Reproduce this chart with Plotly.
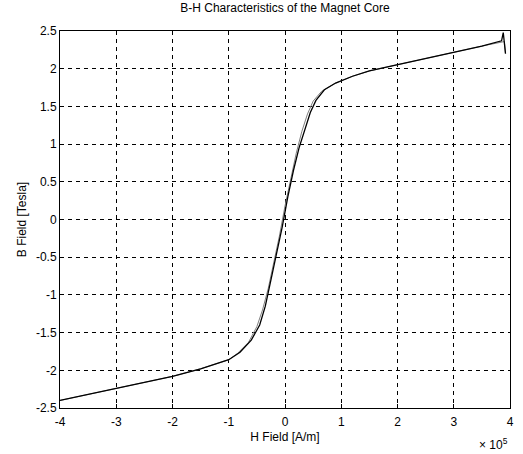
import plotly.graph_objects as go

# H field in units of 1e5 A/m, B field in Tesla
H_up = [-4.0, -3.5, -3.0, -2.5, -2.0, -1.5, -1.0, -0.8, -0.6, -0.45, -0.35, -0.25, -0.15,
        -0.05, 0.05, 0.15, 0.25, 0.35, 0.45, 0.55, 0.7, 0.9, 1.2, 1.5, 2.0, 2.5, 3.0, 3.5,
        3.85, 3.88, 3.92]
B_up = [-2.40, -2.32, -2.24, -2.16, -2.08, -1.98, -1.86, -1.76, -1.60, -1.40, -1.15, -0.80, -0.45,
        -0.10, 0.30, 0.65, 0.95, 1.20, 1.42, 1.58, 1.72, 1.81, 1.90, 1.97, 2.05, 2.13, 2.22, 2.30,
        2.37, 2.48, 2.20]

H_down = [3.92, 3.90, 3.5, 3.0, 2.5, 2.0, 1.5, 1.2, 0.9, 0.65, 0.5, 0.40, 0.30, 0.20, 0.10,
          0.0, -0.10, -0.20, -0.30, -0.40, -0.50, -0.65, -0.85, -1.0, -1.5, -2.0, -2.5, -3.0,
          -3.5, -4.0]
B_down = [2.20, 2.36, 2.30, 2.22, 2.13, 2.05, 1.97, 1.90, 1.81, 1.70, 1.57, 1.40, 1.17, 0.88, 0.55,
          0.18, -0.22, -0.58, -0.92, -1.20, -1.42, -1.63, -1.78, -1.86, -1.98, -2.08, -2.16, -2.24,
          -2.32, -2.40]

x_ticks = [-4, -3, -2, -1, 0, 1, 2, 3, 4]
y_ticks = [-2.5, -2, -1.5, -1, -0.5, 0, 0.5, 1, 1.5, 2, 2.5]
y_labels = ["-2.5", "-2", "-1.5", "-1", "-0.5", "0", "0.5", "1", "1.5", "2", "2.5"]

font = "Liberation Sans, Arial, sans-serif"

fig = go.Figure()
fig.add_trace(go.Scatter(x=H_down, y=B_down, mode="lines",
                         line=dict(color="#808080", width=1), showlegend=False))
fig.add_trace(go.Scatter(x=H_up, y=B_up, mode="lines",
                         line=dict(color="#000000", width=1.3), showlegend=False))

axis_common = dict(
    showline=True, linecolor="black", linewidth=1, mirror=True,
    showgrid=True, gridcolor="black", gridwidth=1, griddash="4px,4px",
    zeroline=False, ticks="inside", ticklen=4, tickcolor="black",
    tickfont=dict(family=font, size=12, color="black"),
)

fig.update_layout(
    width=523, height=454,
    margin=dict(l=60, r=9, t=31, b=46),
    paper_bgcolor="white", plot_bgcolor="white",
    title=dict(text="B-H Characteristics of the Magnet Core", x=0.5, xanchor="center",
               xref="paper", y=1, yref="container", yanchor="top", pad=dict(t=4),
               font=dict(family=font, size=12, color="black")),
    xaxis=dict(range=[-4, 4], tickvals=x_ticks, ticktext=[str(v) for v in x_ticks],
               ticklabelstandoff=3,
               title=dict(text="H Field [A/m]", standoff=4,
                          font=dict(family=font, size=12, color="black")),
               **axis_common),
    yaxis=dict(range=[-2.5, 2.5], tickvals=y_ticks, ticktext=y_labels,
               title=dict(text="B Field [Tesla]", standoff=6,
                          font=dict(family=font, size=12, color="black")),
               **axis_common),
    annotations=[dict(text="× 10<sup>5</sup>", x=1, xref="paper", xanchor="right",
                      y=-0.095, yref="paper", yanchor="middle", showarrow=False,
                      font=dict(family=font, size=12, color="black"))],
)

fig.write_html("out.html")
